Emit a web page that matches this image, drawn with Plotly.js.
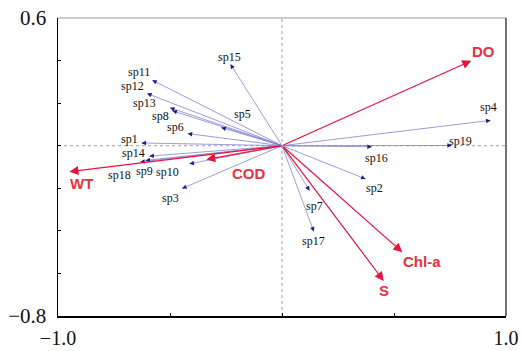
<!DOCTYPE html>
<html>
<head>
<meta charset="utf-8">
<script src="https://cdn.plot.ly/plotly-3.0.1.min.js"></script>
<style>html,body{margin:0;padding:0;background:#fff;}#chart{width:521px;height:351px;}</style>
</head>
<body>
<div id="chart"></div>
<script>
// ---- data ----
var species = ['sp1','sp2','sp3','sp4','sp5','sp6','sp7','sp8','sp9','sp10',
               'sp11','sp12','sp13','sp14','sp15','sp16','sp17','sp18','sp19'];
var spX = [-0.627, 0.373, -0.446, 0.931, -0.271, -0.421, 0.123, -0.489, -0.609, -0.413,
           -0.579, -0.602, -0.500, -0.592, -0.230, 0.401, 0.142, -0.633, 0.758];
var spY = [0.013, -0.156, -0.201, 0.119, 0.085, 0.057, -0.211, 0.164, -0.069, -0.085,
           0.308, 0.245, 0.178, -0.049, 0.383, -0.005, -0.403, -0.076, 0.001];

var envVars = ['DO', 'WT', 'COD', 'Chl-a', 'S'];
var envX = [0.845, -0.949, -0.338, 0.537, 0.454];
var envY = [0.399, -0.122, -0.065, -0.500, -0.635];

var xTickVals = [-1.0, -0.5, 0, 0.5, 1.0];
var xTickText = ['\u22121.0', '', '', '', '1.0'];
var yTickVals = [-0.8, -0.6, -0.4, -0.2, 0, 0.2, 0.4, 0.6];
var yTickText = ['\u22120.8', '', '', '', '', '', '', '0.6'];

// ---- label placement (pixel offsets from arrow tips; styling only) ----
var spLabelShift = [[-12,3.5],[9,-8.7],[-11.7,-9],[-2,13.5],[21,14],[-12,7],[4.5,-15.5],[-12,-5],[-1,-11],[-21.5,-7.7],
                    [-13.7,8.5],[-15,8],[-26,5],[-16,2.7],[-1,7.5],[5,-11],[0,-9],[-21,-13.5],[9,5]];
var envLabelShift = [[12,9],[12.5,-11.7],[43,-14],[20,-9],[0,-9.5]];

var W = 521, H = 351;
var M = {l:58, r:15, t:18, b:35};
var xRange = [-1, 1], yRange = [-0.8, 0.6];
var sx = (W - M.l - M.r) / (xRange[1] - xRange[0]);
var sy = (H - M.t - M.b) / (yRange[1] - yRange[0]);

var blueLine = '#8383d2', navy = '#1c1c8a', red = '#e8123c', redText = '#e8303f';
var serif = '"Liberation Serif", "Times New Roman", serif';

// species lines
var lx = [], ly = [];
for (var i = 0; i < species.length; i++) { lx.push(0, spX[i], null); ly.push(0, spY[i], null); }
var traces = [{
  x: lx, y: ly, type: 'scatter', mode: 'lines',
  line: {color: blueLine, width: 0.8}, hoverinfo: 'skip', showlegend: false
}];

var annotations = [];
// species arrowheads + labels
for (var i = 0; i < species.length; i++) {
  var px = spX[i] * sx, py = spY[i] * sy;
  var len = Math.sqrt(px*px + py*py);
  var hl = 5;
  annotations.push({
    x: spX[i], y: spY[i], xref: 'x', yref: 'y', text: '', showarrow: true,
    ax: -px/len*hl, ay: py/len*hl, arrowhead: 2, arrowsize: 0.9, arrowwidth: 1,
    arrowcolor: navy, standoff: 0
  });
  annotations.push({
    x: spX[i], y: spY[i], xref: 'x', yref: 'y', text: species[i], showarrow: false,
    xanchor: 'center', yanchor: 'middle',
    xshift: spLabelShift[i][0], yshift: spLabelShift[i][1],
    font: {family: serif, size: 12, color: '#111'}
  });
}
// environmental arrows + labels
for (var j = 0; j < envVars.length; j++) {
  annotations.push({
    x: envX[j], y: envY[j], xref: 'x', yref: 'y', axref: 'x', ayref: 'y',
    ax: 0, ay: 0, text: '', showarrow: true,
    arrowhead: 2, arrowsize: 1.5, arrowwidth: 1.2, arrowcolor: red, standoff: 0
  });
  annotations.push({
    x: envX[j], y: envY[j], xref: 'x', yref: 'y', text: '<b>' + envVars[j] + '</b>', showarrow: false,
    xanchor: 'center', yanchor: 'middle',
    xshift: envLabelShift[j][0], yshift: envLabelShift[j][1],
    font: {family: '"Liberation Sans", Arial, sans-serif', size: 15, color: redText}
  });
}

var layout = {
  width: W, height: H, margin: M,
  paper_bgcolor: '#fff', plot_bgcolor: '#fff',
  showlegend: false,
  xaxis: {
    range: xRange, tickvals: xTickVals, ticktext: xTickText,
    ticks: 'inside', ticklen: 3, tickwidth: 1, tickcolor: '#000',
    showline: true, linecolor: '#000', linewidth: 1.5, mirror: false,
    showgrid: false, zeroline: false, ticklabelstandoff: 3,
    tickfont: {family: serif, size: 20, color: '#111'}
  },
  yaxis: {
    range: yRange, tickvals: yTickVals, ticktext: yTickText,
    ticks: 'inside', ticklen: 3, tickwidth: 1, tickcolor: '#000',
    showline: true, linecolor: '#000', linewidth: 1.5, mirror: false,
    showgrid: false, zeroline: false, ticklabelstandoff: 6,
    tickfont: {family: serif, size: 21, color: '#111'}
  },
  shapes: [
    {type: 'line', xref: 'x', yref: 'paper', x0: 0, x1: 0, y0: 0, y1: 1, layer: 'below',
     line: {color: '#888', width: 0.8, dash: 'dot'}},
    {type: 'line', xref: 'paper', yref: 'y', x0: 0, x1: 1, y0: 0, y1: 0, layer: 'below',
     line: {color: '#888', width: 0.8, dash: 'dot'}},
    {type: 'line', xref: 'paper', yref: 'paper', x0: 0, x1: 1, y0: 1, y1: 1,
     line: {color: '#bbbbbb', width: 1.5}},
    {type: 'line', xref: 'paper', yref: 'paper', x0: 1, x1: 1, y0: 0, y1: 1,
     line: {color: '#444444', width: 1.5}}
  ],
  annotations: annotations
};

Plotly.newPlot('chart', traces, layout, {staticPlot: true, displayModeBar: false});
</script>
</body>
</html>
